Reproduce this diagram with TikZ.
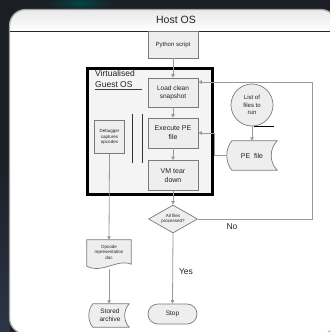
\documentclass[tikz,border=0pt]{standalone}
\usepackage{fontspec}
\setmainfont{Liberation Sans}
\usetikzlibrary{shapes.geometric,arrows.meta,calc}
\definecolor{bgdark}{HTML}{1B1E24}
\definecolor{bgblue}{HTML}{2C3446}
\definecolor{boxfill}{HTML}{EEEEEE}
\definecolor{boxline}{HTML}{7A7A7A}
\definecolor{arrowc}{HTML}{9A9A9A}
\definecolor{guestfill}{HTML}{F4F4F4}
\definecolor{txt}{HTML}{222222}
\begin{document}
\begin{tikzpicture}[x=1pt,y=-1pt,
  proc/.style={draw=boxline,fill=boxfill,line width=0.7pt,minimum width=50pt,minimum height=30pt,inner sep=1pt,align=center,text=txt,font=\fontsize{6.5}{8}\selectfont},
  plain/.style={minimum width=50pt,minimum height=29pt,inner sep=1pt,align=center,text=txt,font=\fontsize{6.5}{8}\selectfont},
  shapeline/.style={draw=boxline,fill=boxfill,line width=0.7pt},
  flow/.style={draw=arrowc,line width=0.8pt,-{Triangle[length=3.5pt,width=3.5pt]}},
  lbl/.style={font=\fontsize{8.5}{9}\selectfont,text=txt}]
\useasboundingbox (0,0) rectangle (330,332);
\clip (0,0) rectangle (330,332);
% background
\fill[bgdark] (0,0) rectangle (330,332);
\shade[top color=bgdark,bottom color=bgblue] (0,150) rectangle (10,332);
\shade[inner color=teal!55!black,outer color=bgdark] (80,3) ellipse (35 and 8);
% host panel
\fill[white,rounded corners=16pt] (9.5,9.5) rectangle (337,334);
\begin{scope}
  \clip[rounded corners=16pt] (9.5,9.5) rectangle (337,334);
  \shade[top color=gray!18,bottom color=white] (9.5,9.5) rectangle (337,31);
\end{scope}
\draw[gray!75,line width=1.2pt,rounded corners=16pt] (9.5,9.5) rectangle (337,334);
\draw[gray!30!black,line width=0.7pt] (10,31) -- (330,31);
\node[font=\fontsize{10.5}{11}\selectfont,text=txt] (host) at (176,20) {Host OS};
% python
\node[proc,minimum height=27pt,font=\fontsize{6}{7}\selectfont] (py) at (173,44.5) {Python script};
% guest OS
\node[draw=black,line width=2.5pt,fill=guestfill,minimum width=125pt,minimum height=126pt] (guest) at (150,131.5) {};
\node[anchor=north west,align=left,inner sep=0pt,font=\fontsize{8.5}{11}\selectfont,text=txt] (vtitle) at (95,70) {Virtualised\\Guest OS};
\draw[black!75,line width=0.7pt] ([yshift=-2pt]vtitle.south west) -- ++(47,0);
\node[proc,minimum height=29pt] (load) at (173,92.5) {Load clean\\snapshot};
\node[proc,font=\fontsize{7}{9}\selectfont] (exe) at (173,133) {Execute PE\\file};
\node[proc,font=\fontsize{7}{9}\selectfont] (vm) at (173,175.5) {VM tear\\down};
\node[proc,minimum width=30pt,minimum height=33pt,font=\fontsize{4.5}{5.5}\selectfont] (dbg) at (109.5,137) {Debugger\\captures\\opcodes};
\draw[black!80,line width=0.8pt] (132,114) -- (132,163);
\draw[black!80,line width=0.8pt] (142,114) -- (142,163);
% decision
\node[diamond,draw=boxline,fill=boxfill,line width=0.7pt,minimum width=49pt,minimum height=28pt,inner sep=0pt,aspect=1.75,align=center,text=txt,font=\fontsize{4.5}{5.5}\selectfont] (dec) at (173,219) {All files\\processed?};
% list of files (sequential storage)
\node[circle,draw=boxline,fill=boxfill,line width=0.7pt,minimum size=42pt,inner sep=0pt,align=center,text=txt,font=\fontsize{6}{7.5}\selectfont] (list) at (252,105) {List of\\files to\\run};
\draw[black,line width=0.7pt] ([xshift=2pt]list.south) -- ++(20,0);
% PE file (stored data)
\node[plain,minimum width=50pt,minimum height=29pt] (pe) at (252,155.5) {};
\draw[shapeline] ([xshift=5pt]pe.north west) -- (pe.north east)
  .. controls ([xshift=-8pt,yshift=-8pt]pe.north east) and ([xshift=-8pt,yshift=8pt]pe.south east) .. (pe.south east)
  -- ([xshift=5pt]pe.south west)
  .. controls ([xshift=-1.7pt,yshift=8pt]pe.south west) and ([xshift=-1.7pt,yshift=-8pt]pe.north west) .. ([xshift=5pt]pe.north west) -- cycle;
\node[plain,font=\fontsize{7}{9}\selectfont] (pet) at (pe.center) {PE\ \ file};
% opcode document
\node[plain,minimum width=44pt,minimum height=26pt] (doc) at (109,253) {};
\draw[shapeline] (doc.south west) -- (doc.north west) -- (doc.north east) -- ([yshift=2pt]doc.south east) .. controls ([xshift=-14pt,yshift=8pt]doc.south east) and ([xshift=16pt,yshift=-8pt]doc.south west) .. (doc.south west) -- cycle;
\node[plain,minimum height=20pt,font=\fontsize{4.5}{5.5}\selectfont] (doct) at ([yshift=1pt]doc.center) {Opcode\\representation\\doc};
% stored archive
\node[plain,minimum width=40pt,minimum height=23pt] (arch) at (109,315.5) {};
\draw[shapeline] ([xshift=4pt]arch.north west) -- (arch.north east)
  .. controls ([xshift=-6pt,yshift=-6pt]arch.north east) and ([xshift=-6pt,yshift=6pt]arch.south east) .. (arch.south east)
  -- ([xshift=4pt]arch.south west)
  .. controls ([xshift=-1.3pt,yshift=6pt]arch.south west) and ([xshift=-1.3pt,yshift=-6pt]arch.north west) .. ([xshift=4pt]arch.north west) -- cycle;
\node[plain,minimum width=36pt,minimum height=20pt,font=\fontsize{6.5}{8}\selectfont] (archt) at ([xshift=1pt]arch.center) {Stored\\archive};
% stop
\node[draw=boxline,fill=boxfill,line width=0.7pt,rounded corners=10pt,minimum width=49pt,minimum height=20pt,text=txt,font=\fontsize{6.5}{8}\selectfont] (stop) at (172.5,314) {Stop};
% connectors
\draw[flow] (py.south) -- (load.north);
\draw[flow] (load.south) -- (exe.north);
\draw[flow] (exe.south) -- (vm.north);
\draw[flow] (vm.south) -- (dec.north);
\draw[flow] (dec.south) -- (stop.north);
\draw[flow] (dec.east) -| ([xshift=114pt,yshift=10.5pt]load.east) -- ([yshift=10.5pt]load.east);
\draw[flow] (list.south) -- (pe.north);
\draw[flow] (pe.west) -- ++(-12,0) |- (exe.east);
\draw[flow] (dbg.south) -- (doc.north);
\draw[flow] ([yshift=-3pt]doc.south) -- (arch.north);
\node[lbl] (no) at (232,227) {No};
\node[lbl] (yes) at (186,272) {Yes};
\end{tikzpicture}
\end{document}
